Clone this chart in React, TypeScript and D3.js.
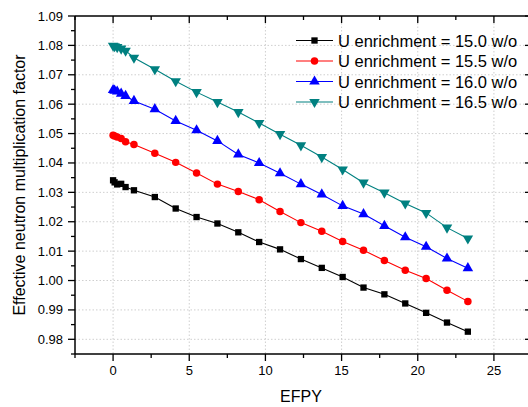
import React from "react";
import * as d3 from "d3";

const efpy = [0, 0.1, 0.27, 0.53, 0.82, 1.37, 2.74, 4.11, 5.48, 6.85, 8.22, 9.59, 10.96, 12.33, 13.7, 15.07, 16.44, 17.81, 19.18, 20.55, 21.92, 23.29];
const k150 = [1.0341, 1.0334, 1.0327, 1.0329, 1.0318, 1.0307, 1.0284, 1.0245, 1.0216, 1.0194, 1.0164, 1.0131, 1.0106, 1.0073, 1.0043, 1.0012, 0.9976, 0.9953, 0.9922, 0.989, 0.9857, 0.9826];
const k155 = [1.0494, 1.0492, 1.0488, 1.0483, 1.0472, 1.0463, 1.0433, 1.0402, 1.0366, 1.0328, 1.0303, 1.0275, 1.0235, 1.0197, 1.0168, 1.0133, 1.0103, 1.0068, 1.0035, 1.0007, 0.9967, 0.9929];
const k160 = [1.0648, 1.0646, 1.0643, 1.0636, 1.0628, 1.0611, 1.0583, 1.0543, 1.0511, 1.0475, 1.0429, 1.04, 1.0365, 1.0328, 1.0293, 1.0254, 1.0226, 1.0186, 1.0147, 1.0115, 1.0075, 1.0042];
const k165 = [1.0799, 1.0797, 1.0794, 1.0789, 1.0782, 1.0758, 1.0719, 1.0678, 1.0641, 1.0607, 1.0573, 1.0536, 1.0498, 1.046, 1.042, 1.0378, 1.0333, 1.0299, 1.0262, 1.023, 1.018, 1.0143];

const seriesNames = ["U enrichment = 15.0 w/o", "U enrichment = 15.5 w/o", "U enrichment = 16.0 w/o", "U enrichment = 16.5 w/o"];
const seriesValues = [k150, k155, k160, k165];
const seriesColors = ["#000000", "#ff0000", "#0000ff", "#008080"];
const seriesSymbols = [d3.symbolSquare, d3.symbolCircle, d3.symbolTriangle, d3.symbolTriangle];
const symbolRotate = [0, 0, 0, 180];

const xMajor = [0, 5, 10, 15, 20, 25];
const xMinor = [-2.5, 2.5, 7.5, 12.5, 17.5, 22.5, 27.5];
const yMajor = [0.98, 0.99, 1.0, 1.01, 1.02, 1.03, 1.04, 1.05, 1.06, 1.07, 1.08, 1.09];
const yMinor = [0.975, 0.985, 0.995, 1.005, 1.015, 1.025, 1.035, 1.045, 1.055, 1.065, 1.075, 1.085];

const FONT = "Liberation Sans, Arial, sans-serif";

export default function App() {
  const L = 75, R = 532, T = 16, B = 354;
  const x = d3.scaleLinear().domain([-2.5, 27.5]).range([L, R]);
  const y = d3.scaleLinear().domain([0.975, 1.09]).range([B, T]);
  const line = d3.line<number>().x((_, i) => x(efpy[i])).y((d) => y(d));
  const symSizes = [40, 44, 48, 48];

  return (
    <svg width={528} height={407} style={{ position: "absolute", left: 0, top: 0, background: "#fff" }} fontFamily={FONT}>
      <rect x={0} y={0} width={528} height={407} fill="#fff" />
      {/* grid */}
      {xMajor.map((v) => (
        <line key={"gx" + v} x1={x(v)} x2={x(v)} y1={T} y2={B} stroke="#cfcfcf" strokeWidth={1} strokeDasharray="1.5,2" />
      ))}
      {yMajor.filter((v) => v < 1.09).map((v) => (
        <line key={"gy" + v} x1={L} x2={R} y1={y(v)} y2={y(v)} stroke="#cfcfcf" strokeWidth={1} strokeDasharray="1.5,2" />
      ))}
      {/* series */}
      {seriesValues.map((vals, si) => (
        <g key={"s" + si}>
          <path d={line(vals) || ""} fill="none" stroke={seriesColors[si]} strokeWidth={1.1} />
          {vals.map((v, i) => (
            <path
              key={i}
              d={d3.symbol().type(seriesSymbols[si]).size(symSizes[si])() || ""}
              transform={`translate(${x(efpy[i])},${y(v)}) rotate(${symbolRotate[si]})`}
              fill={seriesColors[si]}
            />
          ))}
        </g>
      ))}
      {/* axes frame */}
      <line x1={L} x2={L} y1={T} y2={B} stroke="#000" strokeWidth={1.5} />
      <line x1={L} x2={R} y1={B} y2={B} stroke="#000" strokeWidth={1.5} />
      <line x1={L} x2={R} y1={T} y2={T} stroke="#000" strokeWidth={1.5} />
      <line x1={R} x2={R} y1={T} y2={B} stroke="#000" strokeWidth={1.5} />
      {/* x ticks */}
      {xMajor.map((v) => (
        <g key={"xt" + v}>
          <line x1={x(v)} x2={x(v)} y1={B} y2={B + 7} stroke="#000" strokeWidth={1.3} />
          <line x1={x(v)} x2={x(v)} y1={T} y2={T + 7} stroke="#000" strokeWidth={1.3} />
          <text x={x(v)} y={375} textAnchor="middle" fontSize={13}>{v}</text>
        </g>
      ))}
      {xMinor.map((v) => (
        <g key={"xm" + v}>
          <line x1={x(v)} x2={x(v)} y1={B} y2={B + 4} stroke="#000" strokeWidth={1.3} />
          <line x1={x(v)} x2={x(v)} y1={T} y2={T + 4} stroke="#000" strokeWidth={1.3} />
        </g>
      ))}
      {/* y ticks */}
      {yMajor.map((v) => (
        <g key={"yt" + v}>
          <line x1={L - 7} x2={L} y1={y(v)} y2={y(v)} stroke="#000" strokeWidth={1.3} />
          <line x1={R - 7} x2={R} y1={y(v)} y2={y(v)} stroke="#000" strokeWidth={1.3} />
          <text x={63} y={y(v) + 4.5} textAnchor="end" fontSize={13}>{d3.format(".2f")(v)}</text>
        </g>
      ))}
      {yMinor.map((v) => (
        <g key={"ym" + v}>
          <line x1={L - 4} x2={L} y1={y(v)} y2={y(v)} stroke="#000" strokeWidth={1.3} />
          <line x1={R - 4} x2={R} y1={y(v)} y2={y(v)} stroke="#000" strokeWidth={1.3} />
        </g>
      ))}
      {/* axis titles */}
      <text x={301} y={402} textAnchor="middle" fontSize={16}>EFPY</text>
      <text transform={`translate(25,${(T + B) / 2}) rotate(-90)`} textAnchor="middle" fontSize={16}>Effective neutron multiplication factor</text>
      {/* legend */}
      {seriesNames.map((name, si) => {
        const ly = 40.5 + si * 20.5;
        return (
          <g key={"lg" + si}>
            <line x1={296} x2={333} y1={ly} y2={ly} stroke={seriesColors[si]} strokeWidth={1.1} />
            <path
              d={d3.symbol().type(seriesSymbols[si]).size(symSizes[si])() || ""}
              transform={`translate(314.5,${ly}) rotate(${symbolRotate[si]})`}
              fill={seriesColors[si]}
            />
            <text x={338} y={ly + 6} fontSize={16.5}>{name}</text>
          </g>
        );
      })}
    </svg>
  );
}
